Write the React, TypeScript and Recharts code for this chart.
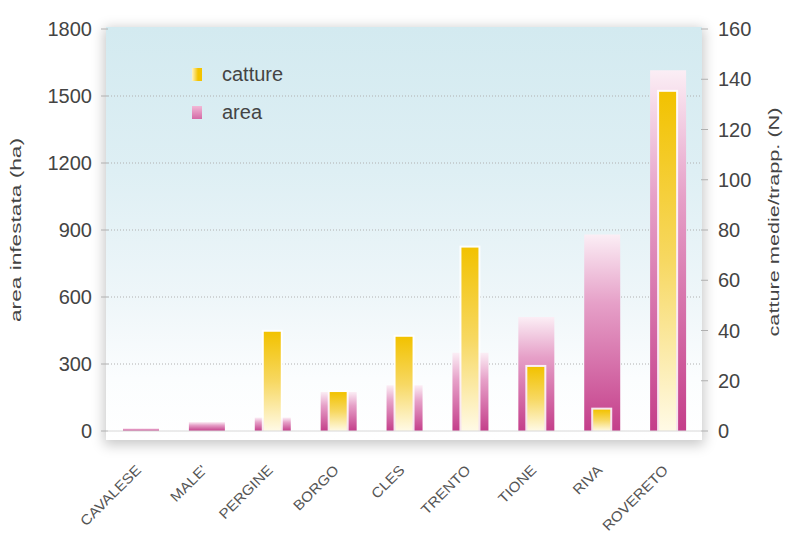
import React from 'react';
import { ComposedChart, Bar, XAxis, YAxis, CartesianGrid, Legend } from 'recharts';

const categories = ['CAVALESE', "MALE'", 'PERGINE', 'BORGO', 'CLES', 'TRENTO', 'TIONE', 'RIVA', 'ROVERETO'];
const areaHa = [12, 40, 60, 175, 205, 350, 510, 880, 1615];
const cattureN = [0, 0, 39.5, 15.5, 37.5, 73, 25.5, 8.5, 135];

const leftTicks = [0, 300, 600, 900, 1200, 1500, 1800];
const rightTicks = [0, 20, 40, 60, 80, 100, 120, 140, 160];
const gridValues = [300, 600, 900, 1200, 1500];

const data = categories.map((name, i) => ({ name, area: areaHa[i], catture: cattureN[i] }));

const FONT = '"Liberation Sans", Arial, Helvetica, sans-serif';

// yellow bar with a thin white halo around it
function CattureBar(props: any) {
  const { x, y, width, height } = props;
  if (!height || height <= 0) return null;
  return (
    <g>
      <rect x={x - 2} y={y - 2} width={width + 4} height={height + 2} fill="#ffffff" fillOpacity={0.85} />
      <rect x={x} y={y} width={width} height={height} fill="url(#gradCatture)" />
    </g>
  );
}

function CategoryTick({ x, y, payload }: any) {
  return (
    <g transform={`translate(${x + 1},${y + 32})`}>
      <text textAnchor="end" transform="rotate(-45) scale(1.1,1)" fontSize={14} fill="#555" fontFamily={FONT}>
        {payload.value}
      </text>
    </g>
  );
}

function LegendBox() {
  const items = [
    { label: 'catture', bg: 'linear-gradient(to right, #fff3c4, #f3c300 60%)' },
    { label: 'area', bg: 'linear-gradient(to bottom, #f2b8d6, #d46aa6)' },
  ];
  return (
    <div style={{ fontFamily: FONT }}>
      {items.map((it) => (
        <div key={it.label} style={{ display: 'flex', alignItems: 'center', height: 38 }}>
          <span style={{ display: 'inline-block', width: 10, height: 13, background: it.bg, marginRight: 20 }} />
          <span style={{ fontSize: 20, color: '#444' }}>{it.label}</span>
        </div>
      ))}
    </div>
  );
}

export default function App() {
  return (
    <div style={{ position: 'absolute', left: 0, top: 0, width: 787, height: 535, background: '#fff' }}>
      <div
        style={{
          position: 'absolute',
          left: 106,
          top: 27,
          width: 596,
          height: 413,
          background: 'linear-gradient(to bottom, #d3eaf0 0%, #deeff4 35%, #eef6f9 65%, #fbfdfe 85%, #ffffff 100%)',
          boxShadow: '0 3px 12px 2px rgba(0,0,0,0.22)',
        }}
      />
      <div style={{ position: 'absolute', left: 0, top: 0 }}>
        <ComposedChart width={787} height={535} data={data} margin={{ top: 29, right: 0, left: 0, bottom: 0 }}>
          <defs>
            <linearGradient id="gradArea" x1="0" y1="0" x2="0" y2="1">
              <stop offset="0%" stopColor="#fbeef5" />
              <stop offset="35%" stopColor="#e6a0c8" />
              <stop offset="100%" stopColor="#c43e8a" />
            </linearGradient>
            <linearGradient id="gradCatture" x1="0" y1="0" x2="0" y2="1">
              <stop offset="0%" stopColor="#f2c200" />
              <stop offset="50%" stopColor="#f7d862" />
              <stop offset="100%" stopColor="#fffae6" />
            </linearGradient>
          </defs>
          <CartesianGrid
            xAxisId="area"
            yAxisId="left"
            vertical={false}
            horizontalValues={gridValues}
            stroke="#b0b0b0"
            strokeDasharray="1 2"
          />
          <XAxis
            xAxisId="area"
            dataKey="name"
            height={104}
            interval={0}
            tickLine={false}
            axisLine={{ stroke: '#d8d8d8' }}
            tick={<CategoryTick />}
          />
          <XAxis xAxisId="catture" dataKey="name" hide />
          <YAxis
            yAxisId="left"
            width={108}
            domain={[0, 1800]}
            ticks={leftTicks}
            axisLine={false}
            tickLine={{ stroke: '#b0b0b0' }}
            tickSize={7}
            tickMargin={9}
            tick={{ fontSize: 20, fill: '#444', fontFamily: FONT }}
            label={{
              content: () => (
                <text
                  x={21}
                  y={230}
                  transform="rotate(-90 21 230)"
                  textAnchor="middle"
                  fontSize={14}
                  textLength={184}
                  lengthAdjust="spacingAndGlyphs"
                  fill="#444"
                  fontFamily={FONT}
                >
                  area infestata (ha)
                </text>
              ),
            }}
          />
          <YAxis
            yAxisId="right"
            orientation="right"
            width={86}
            domain={[0, 160]}
            ticks={rightTicks}
            axisLine={false}
            tickLine={{ stroke: '#b0b0b0' }}
            tickSize={7}
            tickMargin={10}
            tick={{ fontSize: 20, fill: '#444', fontFamily: FONT }}
            label={{
              content: () => (
                <text
                  x={779}
                  y={222}
                  transform="rotate(-90 779 222)"
                  textAnchor="middle"
                  fontSize={14}
                  textLength={229}
                  lengthAdjust="spacingAndGlyphs"
                  fill="#444"
                  fontFamily={FONT}
                >
                  catture medie/trapp. (N)
                </text>
              ),
            }}
          />
          <Legend
            layout="vertical"
            align="center"
            verticalAlign="middle"
            content={() => <LegendBox />}
            wrapperStyle={{ position: 'absolute', left: 192, top: 55, width: 120 }}
          />
          <Bar
            xAxisId="area"
            yAxisId="left"
            dataKey="area"
            name="area"
            barSize={36}
            fill="url(#gradArea)"
            isAnimationActive={false}
          />
          <Bar
            xAxisId="catture"
            yAxisId="right"
            dataKey="catture"
            name="catture"
            barSize={17}
            shape={<CattureBar />}
            isAnimationActive={false}
          />
        </ComposedChart>
      </div>
    </div>
  );
}
